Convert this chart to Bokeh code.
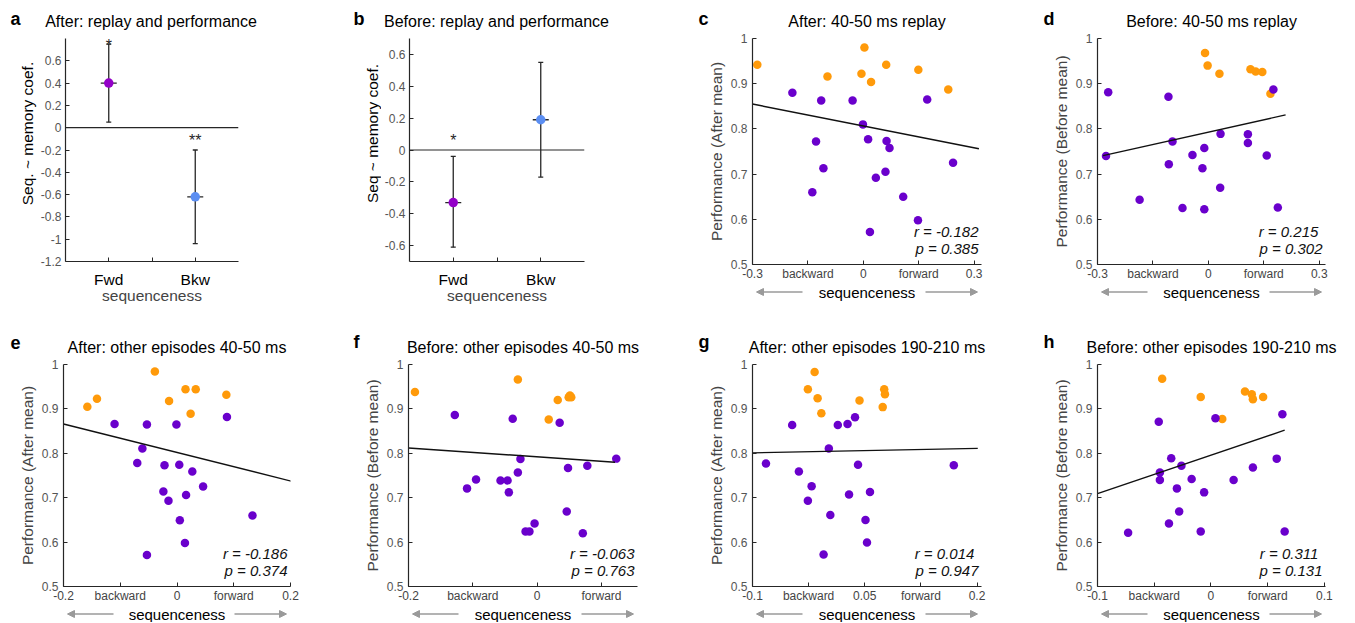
import math
from bokeh.plotting import figure
from bokeh.models import Label, Arrow, NormalHead, FixedTicker, Span
from bokeh.layouts import row, column
from bokeh.core.properties import value
from bokeh.embed import file_html
from bokeh.resources import INLINE

FONT = "Liberation Sans"
FONT_V = value(FONT)

# ---------------- data ----------------
# panels a / b : sequenceness ~ memory coefficient
AB_CATS = ["Fwd", "Bkw"]
AB_POS = [1, 2]
A_MEAN = [0.40, -0.62]
A_LO = [0.05, -1.04]
A_HI = [0.75, -0.20]
A_STARS = ["*", "**"]
A_STAR_Y = [0.776, -0.08]
B_MEAN = [-0.33, 0.19]
B_LO = [-0.61, -0.17]
B_HI = [-0.04, 0.55]
B_STARS = ["*"]
B_STAR_X = [1]
B_STAR_Y = [0.085]
A_YTICKS = [-1.2, -1.0, -0.8, -0.6, -0.4, -0.2, 0.0, 0.2, 0.4, 0.6]
A_YLABELS = ["-1.2", "-1", "-0.8", "-0.6", "-0.4", "-0.2", "0", "0.2", "0.4", "0.6"]
B_YTICKS = [-0.6, -0.4, -0.2, 0.0, 0.2, 0.4, 0.6]
B_YLABELS = ["-0.6", "-0.4", "-0.2", "0", "0.2", "0.4", "0.6"]

# scatter panels: HI = orange (high performers), LO = purple
C_HI_X = [-0.287, -0.097, 0.003, -0.005, 0.021, 0.062, 0.149, 0.230]
C_HI_Y = [0.942, 0.916, 0.980, 0.922, 0.904, 0.942, 0.931, 0.887]
C_LO_X = [-0.192, -0.114, -0.029, -0.001, 0.173, -0.128, 0.013, 0.063, 0.071, -0.108, 0.060, 0.034, 0.243, -0.138, 0.108, 0.148, 0.018]
C_LO_Y = [0.880, 0.863, 0.863, 0.810, 0.865, 0.772, 0.777, 0.773, 0.758, 0.713, 0.705, 0.692, 0.725, 0.660, 0.650, 0.598, 0.572]
C_FIT_X = [-0.300, 0.313]
C_FIT_Y = [0.855, 0.756]

D_HI_X = [-0.009, -0.002, 0.030, 0.114, 0.128, 0.146, 0.168]
D_HI_Y = [0.968, 0.940, 0.922, 0.932, 0.927, 0.926, 0.878]
D_LO_X = [-0.271, 0.176, -0.108, -0.097, -0.277, 0.033, 0.107, 0.107, -0.011, -0.043, -0.107, -0.016, 0.158, 0.032, -0.186, -0.070, -0.011, 0.188]
D_LO_Y = [0.881, 0.887, 0.871, 0.772, 0.740, 0.789, 0.788, 0.769, 0.758, 0.742, 0.722, 0.713, 0.741, 0.670, 0.643, 0.625, 0.622, 0.626]
D_FIT_X = [-0.285, 0.209]
D_FIT_Y = [0.741, 0.831]

E_HI_X = [-0.158, -0.141, -0.039, -0.014, 0.015, 0.033, 0.024, 0.087]
E_HI_Y = [0.905, 0.923, 0.984, 0.918, 0.944, 0.944, 0.889, 0.932]
E_LO_X = [-0.110, -0.053, -0.001, 0.088, -0.061, -0.070, -0.022, 0.004, 0.027, 0.046, -0.024, -0.015, 0.016, 0.005, 0.133, 0.014, -0.053]
E_LO_Y = [0.866, 0.865, 0.865, 0.882, 0.811, 0.778, 0.773, 0.774, 0.759, 0.725, 0.714, 0.693, 0.706, 0.649, 0.660, 0.598, 0.571]
E_FIT_X = [-0.200, 0.202]
E_FIT_Y = [0.866, 0.737]

F_HI_X = [-0.190, -0.030, 0.032, 0.018, 0.049, 0.051, 0.053]
F_HI_Y = [0.938, 0.966, 0.920, 0.876, 0.926, 0.930, 0.926]
F_LO_X = [-0.128, -0.038, 0.035, -0.026, 0.123, 0.048, 0.078, -0.030, -0.095, -0.109, -0.057, -0.046, -0.044, 0.046, -0.004, -0.018, -0.012, 0.071]
F_LO_Y = [0.886, 0.878, 0.869, 0.787, 0.788, 0.767, 0.772, 0.757, 0.741, 0.721, 0.739, 0.739, 0.712, 0.669, 0.642, 0.624, 0.624, 0.620]
F_FIT_X = [-0.200, 0.121]
F_FIT_Y = [0.812, 0.780]

G_HI_X = [-0.017, -0.026, -0.013, -0.008, 0.043, 0.076, 0.077, 0.074]
G_HI_Y = [0.983, 0.944, 0.924, 0.890, 0.919, 0.944, 0.933, 0.904]
G_LO_X = [-0.047, 0.014, 0.027, 0.037, 0.002, -0.082, 0.041, 0.169, -0.038, -0.021, -0.026, 0.029, 0.057, 0.004, 0.051, 0.053, -0.005]
G_LO_Y = [0.864, 0.864, 0.866, 0.881, 0.811, 0.777, 0.774, 0.773, 0.759, 0.726, 0.693, 0.707, 0.713, 0.661, 0.650, 0.599, 0.572]
G_FIT_X = [-0.100, 0.201]
G_FIT_Y = [0.801, 0.811]

H_HI_X = [-0.043, -0.009, 0.010, 0.030, 0.036, 0.037, 0.046]
H_HI_Y = [0.968, 0.927, 0.877, 0.939, 0.933, 0.922, 0.927]
H_LO_X = [-0.046, 0.004, 0.063, -0.035, -0.026, -0.045, -0.045, -0.017, -0.030, -0.006, 0.020, 0.037, 0.058, -0.028, -0.037, -0.073, -0.009, 0.065]
H_LO_Y = [0.871, 0.879, 0.888, 0.789, 0.772, 0.757, 0.740, 0.742, 0.721, 0.712, 0.740, 0.768, 0.788, 0.669, 0.642, 0.621, 0.624, 0.624]
H_FIT_X = [-0.100, 0.065]
H_FIT_Y = [0.709, 0.852]

PERF_TICKS = [0.5, 0.6, 0.7, 0.8, 0.9, 1.0]
PERF_LABELS = ["0.5", "0.6", "0.7", "0.8", "0.9", "1"]

CD_XTICKS = [-0.3, -0.15, 0.0, 0.15, 0.3]
CD_XLABELS = ["-0.3", "backward", "0", "forward", "0.3"]
E_XTICKS = [-0.2, -0.1, 0.0, 0.1, 0.2]
E_XLABELS = ["-0.2", "backward", "0", "forward", "0.2"]
F_XTICKS = [-0.2, -0.1, 0.0, 0.1]
F_XLABELS = ["-0.2", "backward", "0", "forward"]
G_XTICKS = [-0.1, -0.025, 0.05, 0.125, 0.2]
G_XLABELS = ["-0.1", "backward", "0.05", "forward", "0.2"]
H_XTICKS = [-0.1, -0.05, 0.0, 0.05, 0.1]
H_XLABELS = ["-0.1", "backward", "0", "forward", "0.1"]

C_STATS = ["r = -0.182", "p = 0.385"]
D_STATS = ["r =  0.215", "p = 0.302"]
E_STATS = ["r = -0.186", "p = 0.374"]
F_STATS = ["r = -0.063", "p = 0.763"]
G_STATS = ["r =  0.014", "p = 0.947"]
H_STATS = ["r =  0.311", "p = 0.131"]

PURPLE_A = "#9400c8"
BLUE_B = "#5b8ef2"
PURPLE = "#6a00cc"
ORANGE = "#ff9a0a"
AX = "#262626"
TICKC = "#555555"
ARROWC = "#9a9a9a"


# ---------------- helpers ----------------
def strip(w, h):
    s = figure(width=w, height=h, x_range=(0, w), y_range=(0, h),
               output_backend="svg", toolbar_location=None,
               x_axis_type=None, y_axis_type=None,
               min_border_left=0, min_border_right=0,
               min_border_top=0, min_border_bottom=0)
    s.frame_align = False
    s.outline_line_color = None
    s.grid.visible = False
    return s


def stext(s, h, x, ymid, text, size, align="left", style="normal",
          color="black", angle=0.0):
    # ymid: distance of the text's middle from the strip's top edge, in pixels
    s.text(x=[x], y=[h - ymid], text=[text], text_font=FONT_V,
           text_font_size=size, text_font_style=style, text_align=align,
           text_baseline="middle", text_color=color, angle=angle)


def title_strip(w, h, letter, lx, lmid, title, tx, tmid):
    s = strip(w, h)
    stext(s, h, lx, lmid, letter, "18px", style="bold")
    stext(s, h, tx, tmid, title, "16px", align="center")
    return s


def seq_strip(w, h, cx, ymid, fl, fw):
    s = strip(w, h)
    stext(s, h, cx, ymid, "sequenceness", "15px", align="center")
    ya = h - ymid
    for xs, xe in ((fl + 50, fl + 4), (fl + fw - 56, fl + fw - 4)):
        s.add_layout(Arrow(x_start=xs, y_start=ya, x_end=xe, y_end=ya,
                           line_color=ARROWC, line_width=1.6,
                           end=NormalHead(size=7, fill_color=ARROWC, line_color=ARROWC)))
    return s


def base_fig(w, h, bl, br, bt, bb, xr, yr):
    p = figure(width=w, height=h, x_range=xr, y_range=yr,
               output_backend="svg", toolbar_location=None,
               min_border_left=bl, min_border_right=br,
               min_border_top=bt, min_border_bottom=bb)
    p.frame_align = False
    p.outline_line_color = None
    p.grid.visible = False
    for ax in (p.xaxis[0], p.yaxis[0]):
        ax.axis_line_color = AX
        ax.axis_line_width = 1.2
        ax.major_tick_line_color = AX
        ax.major_tick_in = 4
        ax.major_tick_out = 0
        ax.minor_tick_line_color = None
        ax.major_label_text_font = FONT
        ax.axis_label_text_font = FONT
        ax.axis_label_text_font_style = "normal"
    return p


def coef_main(w, h, bl, br, bt, bb, yr, yticks, ylabels, mean, lo, hi,
              star_x, star_y, stars):
    p = base_fig(w, h, bl, br, bt, bb, (0.5, 2.5), yr)
    p.xaxis.ticker = FixedTicker(ticks=[AB_POS[0], 1.5, AB_POS[1]])
    p.xaxis.major_label_overrides = {AB_POS[0]: AB_CATS[0], 1.5: "", AB_POS[1]: AB_CATS[1]}
    p.xaxis.major_label_text_font_size = "15.5px"
    p.xaxis.major_label_text_color = "black"
    p.xaxis.major_label_standoff = 9
    p.xaxis.axis_label = "sequenceness"
    p.xaxis.axis_label_text_font_size = "15.5px"
    p.xaxis.axis_label_standoff = -4
    p.yaxis.ticker = FixedTicker(ticks=yticks)
    p.yaxis.major_label_overrides = dict(zip(yticks, ylabels))
    p.yaxis.major_label_text_font_size = "12px"
    p.yaxis.major_label_text_color = TICKC
    p.yaxis.major_label_standoff = 4
    p.add_layout(Span(location=0, dimension="width", line_color=AX, line_width=1.2))
    p.segment(x0=AB_POS, y0=lo, x1=AB_POS, y1=hi, line_color=AX, line_width=1.3)
    p.scatter(AB_POS, lo, marker="dash", size=5, line_color=AX, line_width=1.3)
    p.scatter(AB_POS, hi, marker="dash", size=5, line_color=AX, line_width=1.3)
    p.scatter(AB_POS, mean, marker="dash", size=16, line_color=AX, line_width=1.3)
    p.scatter(AB_POS, mean, marker="circle", size=9.5,
              fill_color=[PURPLE_A, BLUE_B], line_color=None)
    p.text(x=star_x, y=star_y, text=stars, text_font=FONT_V, text_font_size="16px",
           text_align="center", text_baseline="middle", y_offset=4, text_color=AX)
    return p


def scatter_main(w, h, bl, br, bt, bb, xr, xticks, xlabels, ylabel,
                 hx, hy, lx, ly, fx, fy, stats):
    p = base_fig(w, h, bl, br, bt, bb, xr, (0.5, 1.0))
    fw = w - bl - br
    p.xaxis.ticker = FixedTicker(ticks=xticks)
    p.xaxis.major_label_overrides = dict(zip(xticks, xlabels))
    p.xaxis.major_label_text_font_size = "12px"
    p.xaxis.major_label_text_color = "#444444"
    p.xaxis.major_label_standoff = 2
    p.yaxis.ticker = FixedTicker(ticks=PERF_TICKS)
    p.yaxis.major_label_overrides = dict(zip(PERF_TICKS, PERF_LABELS))
    p.yaxis.major_label_text_font_size = "12px"
    p.yaxis.major_label_text_color = TICKC
    p.yaxis.major_label_standoff = 5
    p.yaxis.axis_label = ylabel
    p.yaxis.axis_label_text_font_size = "15.5px"
    p.yaxis.axis_label_standoff = 3
    p.scatter(hx, hy, size=8.5, fill_color=ORANGE, line_color=None)
    p.scatter(lx, ly, size=8.5, fill_color=PURPLE, line_color=None)
    p.line(fx, fy, line_color="#111111", line_width=1.4)
    for txt, yy in zip(stats, (33, 16)):
        p.add_layout(Label(x=fw - 3, y=yy, x_units="screen", y_units="screen",
                           text=txt, text_font=FONT, text_font_size="15px",
                           text_font_style="italic", text_align="right",
                           text_baseline="middle", text_color="#111111"))
    return p


# ---------------- geometry (page origin is the window's top-left) ----------------
TOP_H = 306          # top row: y 0..306
T_TITLE = 30         # title strip (0..30)
T_BT, T_FH = 8, 228  # frame 38..266
T_BB = 17
T_MAIN = T_BT + T_FH + T_BB
T_SEQ = TOP_H - T_TITLE - T_MAIN      # 283..306
BOT_H = 316          # bottom row: y 306..622
B_TITLE = 50         # title strip (306..356)
B_BT, B_FH = 8, 224  # frame 364..588
B_BB = 17
B_MAIN = B_BT + B_FH + B_BB
B_SEQ = BOT_H - B_TITLE - B_MAIN      # 605..622


def coef_column(letter, title, ylabel, colw, lsw, bl, br, yr, yticks, ylabels,
                mean, lo, hi, sx, sy, st, ylab_x, letter_x):
    mainw = colw - lsw
    fw = mainw - bl - br
    mh = TOP_H - T_TITLE
    ts = title_strip(colw, T_TITLE, letter, letter_x, 18.5, title, lsw + bl + fw / 2, 21)
    ls = strip(lsw, mh)
    stext(ls, mh, ylab_x, 133 - T_TITLE, ylabel, "15.5px", align="center",
          angle=math.pi / 2)
    m = coef_main(mainw, mh, bl, br, T_BT, mh - T_BT - T_FH, yr, yticks, ylabels,
                  mean, lo, hi, sx, sy, st)
    return column(ts, row(ls, m))


def scatter_column(top, letter, title, ylabel, colw, bl, br, xr, xticks, xlabels,
                   hx, hy, lx, ly, fx, fy, stats, letter_x):
    fw = colw - bl - br
    if top:
        th, mh, sh = T_TITLE, T_MAIN, T_SEQ
        bt, bb = T_BT, T_BB
        lmid, tmid = 18.5, 21
        seq_mid = 8.5
    else:
        th, mh, sh = B_TITLE, B_MAIN, B_SEQ
        bt, bb = B_BT, B_BB
        lmid, tmid = 35.7, 40.9
        seq_mid = 8.5
    ts = title_strip(colw, th, letter, letter_x, lmid, title, bl + fw / 2, tmid)
    m = scatter_main(colw, mh, bl, br, bt, bb, xr, xticks, xlabels, ylabel,
                     hx, hy, lx, ly, fx, fy, stats)
    ss = seq_strip(colw, sh, bl + fw / 2, seq_mid, bl, fw)
    return column(ts, m, ss)


ca = coef_column("a", "After: replay and performance", "Seq. ~ memory coef.",
                 345, 37, 26, 107, (-1.2, 0.8), A_YTICKS, A_YLABELS,
                 A_MEAN, A_LO, A_HI, AB_POS, A_STAR_Y, A_STARS, 26.7, 10)
cb = coef_column("b", "Before: replay and performance", "Seq ~ memory coef.",
                 343, 36, 27, 104, (-0.7, 0.7), B_YTICKS, B_YLABELS,
                 B_MEAN, B_LO, B_HI, B_STAR_X, B_STAR_Y, B_STARS, 26.7, 8)
cc = scatter_column(True, "c", "After: 40-50 ms replay", "Performance (After mean)",
                    347, 64, 54, (-0.3, 0.32), CD_XTICKS, CD_XLABELS,
                    C_HI_X, C_HI_Y, C_LO_X, C_LO_Y, C_FIT_X, C_FIT_Y, C_STATS, 10)
cd = scatter_column(True, "d", "Before: 40-50 ms replay", "Performance (Before mean)",
                    319, 62, 29, (-0.3, 0.317), CD_XTICKS, CD_XLABELS,
                    D_HI_X, D_HI_Y, D_LO_X, D_LO_Y, D_FIT_X, D_FIT_Y, D_STATS, 8)
ce = scatter_column(False, "e", "After: other episodes 40-50 ms", "Performance (After mean)",
                    345, 63, 55, (-0.2, 0.2), E_XTICKS, E_XLABELS,
                    E_HI_X, E_HI_Y, E_LO_X, E_LO_Y, E_FIT_X, E_FIT_Y, E_STATS, 10)
cf = scatter_column(False, "f", "Before: other episodes 40-50 ms", "Performance (Before mean)",
                    343, 63, 51, (-0.2, 0.156), F_XTICKS, F_XLABELS,
                    F_HI_X, F_HI_Y, F_LO_X, F_LO_Y, F_FIT_X, F_FIT_Y, F_STATS, 8)
cg = scatter_column(False, "g", "After: other episodes 190-210 ms", "Performance (After mean)",
                    347, 64, 54, (-0.1, 0.206), G_XTICKS, G_XLABELS,
                    G_HI_X, G_HI_Y, G_LO_X, G_LO_Y, G_FIT_X, G_FIT_Y, G_STATS, 10)
ch = scatter_column(False, "h", "Before: other episodes 190-210 ms", "Performance (Before mean)",
                    319, 62, 29, (-0.1, 0.101), H_XTICKS, H_XLABELS,
                    H_HI_X, H_HI_Y, H_LO_X, H_LO_Y, H_FIT_X, H_FIT_Y, H_STATS, 8)

layout = column(row(ca, cb, cc, cd), row(ce, cf, cg, ch))

with open("out.html", "w") as fh_:
    fh_.write(file_html(layout, INLINE))
